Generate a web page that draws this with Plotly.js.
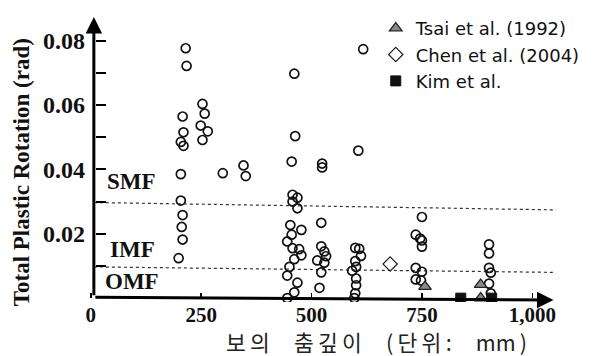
<!DOCTYPE html>
<html>
<head>
<meta charset="utf-8">
<script src="https://cdn.plot.ly/plotly-3.0.1.min.js"></script>
<style>
html,body{margin:0;padding:0;background:#fff;}
#chart{width:595px;height:356px;}
</style>
</head>
<body>
<div id="chart"></div>
<script>
// ---- data (beam depth in mm, total plastic rotation in rad) ----
const circleDepth = [215,217,208,210,204,210,204,204,208,206,208,199,
  253,258,249,265,253,
  299,346,351,
  461,463,455,457,468,457,468,452,477,455,445,457,472,477,461,450,445,468,461,445,
  524,524,522,522,529,533,513,529,522,518,
  617,606,599,608,612,599,601,592,601,601,599,597,
  750,736,746,750,750,736,750,736,748,
  902,902,902,906,902,906];
const circleRot = [0.0776,0.0721,0.0564,0.0515,0.0485,0.0473,0.0385,0.0303,0.0258,0.0221,0.0182,0.0124,
  0.0603,0.0573,0.0536,0.0518,0.0491,
  0.0388,0.0412,0.0379,
  0.0697,0.0503,0.0424,0.0321,0.0312,0.0300,0.0279,0.0227,0.0212,0.0197,0.0176,0.0155,0.0152,0.0133,0.0121,0.0097,0.0070,0.0048,0.0018,0.0,
  0.0418,0.0406,0.0234,0.0161,0.0145,0.0130,0.0117,0.0110,0.0080,0.0032,
  0.0773,0.0458,0.0156,0.0153,0.0131,0.0115,0.0097,0.0085,0.0061,0.0040,0.0015,0.0,
  0.0252,0.0197,0.0185,0.0179,0.0160,0.0094,0.0082,0.0058,0.0055,
  0.0167,0.0139,0.0094,0.0079,0.0045,0.0015];
const tsaiDepth = [757,883,883];
const tsaiRot   = [0.0036,0.0042,0.0];
const chenDepth = [678];
const chenRot   = [0.0106];
const kimDepth  = [838,908];
const kimRot    = [0.0,0.0];

const seriesNames = ['Tsai et al. (1992)','Chen et al. (2004)','Kim et al.'];
const levelNames  = ['SMF','IMF','OMF'];
const levelStart  = [0.0297,0.0097];   // dotted limit lines (left end)
const levelEnd    = [0.0274,0.0080];   // (right end, scan tilt)

const xTickVals = [0,250,500,750,1000];
const xTickText = ['0','250','500','750','1,000'];
const yTickVals = [0.01,0.02,0.03,0.04,0.05,0.06,0.07,0.08];
const yTickText = ['','0.02','','0.04','','0.06','','0.08'];

const xTitle = '보\u2009의\u00A0\u00A0\u00A0\u00A0\u00A0춤\u2009깊\u2009이\u00A0\u00A0\u00A0\u00A0\u00A0(\u2009단\u2009위\u2009:\u00A0\u00A0\u00A0\u00A0\u00A0mm\u2009)';
const yTitle = 'Total Plastic Rotation (rad)';

// ---- layout constants ----
const X0 = -10.8, X1 = 1065, Y0 = -0.0012, Y1 = 0.0873;
const axisX = 7; // position of drawn y axis in data units
const serif = 'Liberation Serif, Times New Roman, serif';

const traces = [
  {x: circleDepth, y: circleRot, type:'scatter', mode:'markers', showlegend:false,
   marker:{symbol:'circle-open', size:9, color:'#111', line:{width:1.7, color:'#111'}}},
  {x: tsaiDepth, y: tsaiRot, type:'scatter', mode:'markers', name: seriesNames[0],
   marker:{symbol:'triangle-up', size:11, color:'#8a8a8a', line:{width:1.3, color:'#222'}}},
  {x: chenDepth, y: chenRot, type:'scatter', mode:'markers', name: seriesNames[1],
   marker:{symbol:'diamond-open', size:11, color:'#222', line:{width:1.2, color:'#222'}}},
  {x: kimDepth, y: kimRot, type:'scatter', mode:'markers', name: seriesNames[2],
   marker:{symbol:'square', size:10, color:'#111', line:{width:1, color:'#111'}}}
];

const shapes = levelStart.map((v,i)=>({
  type:'line', xref:'x', yref:'y', x0: axisX, x1: (i===0?1054:1047), y0: v, y1: levelEnd[i],
  line:{color:'#333', width:1.2, dash:'dot'}, layer:'below'
}));

const annotations = [
  // y axis with arrow
  {xref:'x', yref:'y', axref:'x', ayref:'y', x: axisX, y: Y1, ax: axisX, ay: 0.0004,
   text:'', showarrow:true, arrowhead:2, arrowsize:1.1, arrowwidth:3, arrowcolor:'#000', standoff:0, startstandoff:0},
  // x axis with arrow
  {xref:'x', yref:'y', axref:'x', ayref:'y', x: 1048, y: -0.0006, ax: axisX, ay: 0.0003,
   text:'', showarrow:true, arrowhead:2, arrowsize:1.1, arrowwidth:3, arrowcolor:'#000', standoff:0, startstandoff:0},
  // limit labels
  {xref:'x', yref:'y', x: 32, y: 0.0362, xanchor:'left', yanchor:'middle', text: levelNames[0], showarrow:false,
   font:{family:serif, size:23, color:'#111', weight:'bold'}},
  {xref:'x', yref:'y', x: 40, y: 0.0150, xanchor:'left', yanchor:'middle', text: levelNames[1], showarrow:false,
   font:{family:serif, size:23, color:'#111', weight:'bold'}},
  {xref:'x', yref:'y', x: 28, y: 0.0052, xanchor:'left', yanchor:'middle', text: levelNames[2], showarrow:false,
   font:{family:serif, size:23, color:'#111', weight:'bold'}},
  // axis titles
  {xref:'paper', yref:'paper', x: 0.612, y: -0.137, xanchor:'center', yanchor:'middle', text: xTitle, showarrow:false,
   font:{family:'Noto Sans CJK KR, sans-serif', size:21.5, color:'#222'}},
  {xref:'paper', yref:'paper', x: -0.137, y: 0.455, xanchor:'center', yanchor:'middle', text: yTitle, showarrow:false,
   textangle:-90, font:{family:serif, size:23, color:'#111', weight:'bold'}}
];

const layout = {
  width:595, height:356,
  margin:{l:86, r:30, t:10, b:54},
  paper_bgcolor:'#fff', plot_bgcolor:'#fff',
  showlegend:true,
  legend:{x:0.61, y:1.025, xanchor:'left', yanchor:'top', bgcolor:'rgba(0,0,0,0)',
          font:{family:'DejaVu Sans, sans-serif', size:18, color:'#111'}, tracegroupgap:0},
  xaxis:{range:[X0,X1], showgrid:false, zeroline:false, showline:false,
         anchor:'free', position:0.0137,
         tickmode:'array', tickvals:xTickVals, ticktext:xTickText,
         ticks:'inside', ticklen:5, tickwidth:1.5, tickcolor:'#000',
         tickfont:{family:serif, size:21, color:'#111', weight:'bold'}, ticklabelstandoff:2},
  yaxis:{range:[Y0,Y1], showgrid:false, zeroline:false, showline:false,
         anchor:'free', position:0.0189,
         tickmode:'array', tickvals:yTickVals, ticktext:yTickText,
         ticks:'inside', ticklen:10, tickwidth:2, tickcolor:'#000',
         tickfont:{family:serif, size:24, color:'#111', weight:'bold'}, ticklabelstandoff:10},
  shapes: shapes,
  annotations: annotations
};

Plotly.newPlot('chart', traces, layout, {staticPlot:true, displayModeBar:false});
</script>
</body>
</html>
